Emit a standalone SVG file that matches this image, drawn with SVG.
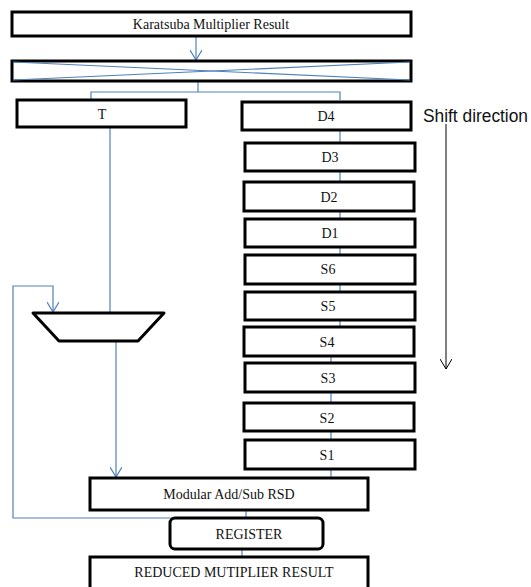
<svg xmlns="http://www.w3.org/2000/svg" width="531" height="587" viewBox="0 0 531 587">
  <style>
    .box { fill: #fff; stroke: #000; stroke-width: 3; }
    .lbl { font-family: "Liberation Serif", "Times New Roman", serif; font-size: 14px; fill: #111; text-anchor: middle; dominant-baseline: central; }
    .wire { fill: none; stroke: #4F81BD; stroke-width: 1.2; }
    .note { font-family: "Liberation Sans", Arial, sans-serif; font-size: 18px; fill: #111; }
  </style>
  <defs>
    <marker id="vblue" markerWidth="12" markerHeight="12" refX="11" refY="6" orient="auto" markerUnits="userSpaceOnUse" viewBox="0 0 12 12">
      <path d="M1,0 L11,6 L1,12" fill="none" stroke="#4F81BD" stroke-width="1.2"/>
    </marker>
    <marker id="vblack" markerWidth="12" markerHeight="12" refX="11" refY="6" orient="auto" markerUnits="userSpaceOnUse" viewBox="0 0 12 12">
      <path d="M1,0 L11,6 L1,12" fill="none" stroke="#000" stroke-width="1"/>
    </marker>
  </defs>

  <rect width="531" height="587" fill="#fff"/>

  <!-- connectors -->
  <g id="connectors">
    <line class="wire" x1="196" y1="37" x2="196" y2="60" marker-end="url(#vblue)"/>
    <polyline class="wire" points="198,81 198,92"/>
    <polyline class="wire" points="91,100 91,92 340,92 340,100"/>
    <line class="wire" x1="110" y1="127" x2="110" y2="313"/>
    <line class="wire" x1="340" y1="130" x2="340" y2="327"/>
    <line class="wire" x1="331" y1="356" x2="331" y2="478"/>
    <line class="wire" x1="116" y1="341" x2="116" y2="477" marker-end="url(#vblue)"/>
    <polyline class="wire" points="252,518 13,518 13,286 53,286 53,312" marker-end="url(#vblue)"/>
    <line class="wire" x1="246" y1="510" x2="246" y2="525"/>
    <line class="wire" x1="242" y1="549" x2="242" y2="557"/>
  </g>

  <g id="karatsuba">
    <rect class="box" x="12" y="12" width="399" height="24"/>
    <text class="lbl" x="211" y="24">Karatsuba Multiplier Result</text>
  </g>

  <g id="splitter">
    <rect class="box" x="12" y="61" width="399" height="20"/>
    <line class="wire" x1="13" y1="62" x2="410" y2="80"/>
    <line class="wire" x1="13" y1="80" x2="410" y2="62"/>
  </g>

  <g id="t">
    <rect class="box" x="17" y="100" width="169" height="27"/>
    <text class="lbl" x="102" y="114">T</text>
  </g>

  <g id="d4">
    <rect class="box" x="242" y="102" width="169" height="28"/>
    <text class="lbl" x="326" y="116">D4</text>
  </g>
  <g id="d3">
    <rect class="box" x="245" y="143" width="170" height="28"/>
    <text class="lbl" x="330" y="157">D3</text>
  </g>
  <g id="d2">
    <rect class="box" x="244" y="182" width="170" height="29"/>
    <text class="lbl" x="329" y="197">D2</text>
  </g>
  <g id="d1">
    <rect class="box" x="245" y="219" width="170" height="28"/>
    <text class="lbl" x="330" y="233">D1</text>
  </g>
  <g id="s6">
    <rect class="box" x="245" y="255" width="170" height="29"/>
    <text class="lbl" x="328" y="269">S6</text>
  </g>
  <g id="s5">
    <rect class="box" x="245" y="292" width="170" height="28"/>
    <text class="lbl" x="328" y="306">S5</text>
  </g>
  <g id="s4">
    <rect class="box" x="244" y="327" width="170" height="29"/>
    <text class="lbl" x="327" y="342">S4</text>
  </g>
  <g id="s3">
    <rect class="box" x="245" y="363" width="170" height="29"/>
    <text class="lbl" x="328" y="378">S3</text>
  </g>
  <g id="s2">
    <rect class="box" x="244" y="403" width="170" height="28"/>
    <text class="lbl" x="327" y="418">S2</text>
  </g>
  <g id="s1">
    <rect class="box" x="245" y="440" width="170" height="29"/>
    <text class="lbl" x="327" y="455">S1</text>
  </g>

  <g id="mux">
    <polygon points="33,313 164,313 138,341 59,341" fill="#fff" stroke="#000" stroke-width="3" stroke-linejoin="round"/>
  </g>

  <g id="modular">
    <rect class="box" x="90" y="478" width="278" height="32"/>
    <text class="lbl" x="229" y="494">Modular Add/Sub RSD</text>
  </g>

  <g id="register">
    <rect class="box" x="170" y="518" width="153" height="31" rx="5"/>
    <text class="lbl" x="249" y="534">REGISTER</text>
  </g>

  <g id="reduced">
    <rect class="box" x="90" y="557" width="278" height="34"/>
    <text class="lbl" x="234" y="572">REDUCED MUTIPLIER RESULT</text>
  </g>

  <g id="shift">
    <text class="note" x="423" y="122" textLength="105" lengthAdjust="spacingAndGlyphs">Shift direction</text>
    <line x1="446" y1="124" x2="446" y2="369" stroke="#000" stroke-width="1" marker-end="url(#vblack)"/>
  </g>
</svg>
